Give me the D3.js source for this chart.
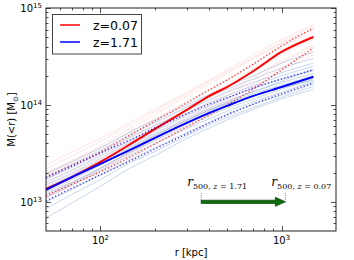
<!DOCTYPE html>
<html><head><meta charset="utf-8">
<script src="https://cdn.jsdelivr.net/npm/d3@7"></script>
<style>body{margin:0;background:#fff}svg{display:block}</style>
</head><body>
<script>
// ---- data (mass in units of 1e13 Msun) ----
const UNIT = 1e13;
const radii = [50, 70, 100, 150, 200, 300, 400, 500, 700, 1000, 1500];
const redMedian = [1.36, 1.81, 2.58, 4.06, 5.66, 8.88, 12.4, 15.3, 22.4, 35.2, 50.2];
const redUpper  = [1.81, 2.41, 3.28, 5.02, 6.84, 10.5, 14.3, 18.1, 26.5, 40.6, 62.2];
const redLower  = [1.15, 1.53, 2.04, 2.98, 3.96, 5.93, 7.88, 10.0, 14.6, 23.0, 38.7];
const blueMedian = [1.33, 1.81, 2.46, 3.52, 4.57, 6.52, 8.27, 9.77, 12.4, 15.3, 19.5];
const blueUpper  = [1.77, 2.35, 3.20, 4.46, 5.79, 8.08, 10.2, 11.8, 15.0, 18.5, 23.0];
const blueLower  = [1.02, 1.39, 1.90, 2.71, 3.52, 5.02, 6.52, 7.88, 10.2, 13.0, 16.9];
const redClusters = [
  [2.4, 3.3, 4.5, 6.8, 9.0, 13.5, 18.0, 23.0, 33.0, 47.0, 68.0],
  [2.2, 3.0, 4.2, 6.4, 8.6, 13.0, 17.5, 22.0, 31.0, 44.0, 66.0],
  [2.0, 2.7, 3.8, 5.9, 8.0, 12.3, 16.5, 21.0, 30.0, 43.0, 60.0],
  [1.9, 2.6, 3.6, 5.4, 7.2, 10.8, 14.5, 18.0, 26.0, 40.0, 56.0],
  [1.7, 2.3, 3.1, 4.7, 6.3, 9.5, 12.8, 16.0, 23.5, 36.0, 52.0],
  [1.55, 2.1, 2.9, 4.3, 5.9, 9.0, 12.0, 15.0, 22.0, 33.0, 47.0],
  [1.45, 1.95, 2.7, 4.0, 5.4, 8.1, 10.8, 13.4, 19.5, 28.5, 42.0],
  [1.3, 1.75, 2.4, 3.6, 4.8, 7.3, 9.8, 12.3, 18.0, 27.0, 40.0],
  [1.2, 1.6, 2.2, 3.3, 4.5, 6.9, 9.3, 11.6, 16.5, 24.0, 36.0],
  [1.1, 1.5, 2.1, 3.2, 4.3, 6.5, 8.6, 10.8, 15.5, 22.5, 33.0]
];
const blueClusters = [
  [0.68, 0.98, 1.45, 2.3, 3.0, 4.5, 5.8, 7.0, 9.0, 11.5, 14.5],
  [0.85, 1.2, 1.7, 2.6, 3.3, 4.8, 6.2, 7.4, 9.4, 12.0, 15.5],
  [1.0, 1.35, 1.9, 2.8, 3.6, 5.2, 6.6, 8.0, 10.2, 12.6, 16.5],
  [1.1, 1.5, 2.1, 3.1, 4.0, 5.7, 7.2, 8.6, 10.8, 13.5, 17.5],
  [1.15, 1.55, 2.2, 3.4, 4.5, 6.6, 8.5, 10.2, 12.5, 15.0, 18.0],
  [1.2, 1.6, 2.25, 3.3, 4.3, 6.1, 7.8, 9.2, 11.5, 14.5, 18.5],
  [1.25, 1.7, 2.4, 3.6, 4.6, 6.5, 8.2, 9.8, 12.3, 15.2, 19.0],
  [1.3, 1.8, 2.5, 3.7, 4.8, 6.9, 8.8, 10.4, 13.0, 16.0, 20.0],
  [1.35, 1.85, 2.6, 3.8, 4.9, 7.0, 8.9, 10.6, 13.8, 17.5, 23.5],
  [1.4, 1.9, 2.65, 4.0, 5.1, 7.3, 9.2, 11.0, 13.6, 17.0, 21.0],
  [1.5, 2.0, 2.8, 4.2, 5.4, 7.8, 9.8, 11.8, 14.8, 18.5, 22.5],
  [1.6, 2.15, 3.0, 4.4, 5.7, 8.2, 10.5, 12.5, 15.8, 20.0, 25.0],
  [1.7, 2.3, 3.2, 4.8, 6.1, 8.8, 11.3, 13.6, 17.0, 21.5, 27.0],
  [1.8, 2.45, 3.4, 5.1, 6.6, 9.5, 12.0, 14.5, 18.5, 24.0, 30.0],
  [1.95, 2.6, 3.6, 5.4, 7.0, 10.0, 12.8, 15.5, 20.0, 27.0, 35.0]
];
const seriesLabels = ["z=0.07", "z=1.71"];
const r500 = {"1.71": 360, "0.07": 1050};
const arrowMass = 1.0; // in UNIT
const xTickExps = [2, 3];
const yTickExps = [13, 14, 15];

// ---- layout ----
const W = 354, H = 260;
const m = {l: 46, r: 18, t: 8, b: 29};
const svg = d3.select("body").append("svg").attr("width", W).attr("height", H);
const x = d3.scaleLog().domain([50, 2000]).range([m.l, W - m.r]);
const y = d3.scaleLog().domain([5e12, 1e15]).range([H - m.b, m.t]);
const x0 = m.l, x1 = W - m.r, y0 = H - m.b, y1 = m.t;

svg.append("clipPath").attr("id", "clip").append("rect")
  .attr("x", x0).attr("y", y1).attr("width", x1 - x0).attr("height", y0 - y1);
const g = svg.append("g").attr("clip-path", "url(#clip)");
const line = d3.line().curve(d3.curveMonotoneX)
  .x((d, i) => x(radii[i])).y(d => y(d * UNIT));

function draw(data, color, width, opacity, dash) {
  const p = g.append("path").datum(data).attr("d", line)
    .attr("fill", "none").attr("stroke", color).attr("stroke-width", width)
    .attr("stroke-opacity", opacity).attr("stroke-linejoin", "round");
  if (dash) p.attr("stroke-dasharray", dash);
}
redClusters.forEach(d => draw(d, "#ff6060", 1, 0.17));
blueClusters.forEach(d => draw(d, "#4a78c0", 1, 0.3));
draw(redUpper, "#ff0000", 1.5, 0.75, "1.2,2.2");
draw(redLower, "#ff0000", 1.5, 0.75, "1.2,2.2");
draw(redMedian, "#ff0000", 2, 1);
draw(blueUpper, "#0000ff", 1.5, 0.75, "1.2,2.2");
draw(blueLower, "#0000ff", 1.5, 0.75, "1.2,2.2");
draw(blueMedian, "#0000ff", 2, 1);

// ---- frame & ticks ----
const axisColor = "#222";
svg.append("rect").attr("x", x0).attr("y", y1).attr("width", x1 - x0).attr("height", y0 - y1)
  .attr("fill", "none").attr("stroke", axisColor).attr("stroke-width", 1);

const xMajor = xTickExps.map(e => Math.pow(10, e));
const xMinor = x.ticks().filter(v => !xMajor.some(M => Math.abs(M - v) < 1e-6) && v > 50 && v < 2000);
const yMajor = yTickExps.map(e => Math.pow(10, e));
const yMinor = y.ticks().filter(v => !yMajor.some(M => Math.abs(M / v - 1) < 1e-6) && v > 5e12 && v < 1e15);

const tk = svg.append("g").attr("stroke", axisColor).attr("stroke-width", 0.8);
function xt(v, len) {
  const px = Math.round(x(v)) + 0.5;
  tk.append("line").attr("x1", px).attr("x2", px).attr("y1", y0).attr("y2", y0 - len);
  tk.append("line").attr("x1", px).attr("x2", px).attr("y1", y1).attr("y2", y1 + len);
}
function yt(v, len) {
  const py = Math.round(y(v)) + 0.5;
  tk.append("line").attr("x1", x0).attr("x2", x0 + len).attr("y1", py).attr("y2", py);
  tk.append("line").attr("x1", x1).attr("x2", x1 - len).attr("y1", py).attr("y2", py);
}
xMajor.forEach(v => xt(v, 5)); xMinor.forEach(v => xt(v, 2.5));
yMajor.forEach(v => yt(v, 5)); yMinor.forEach(v => yt(v, 2.5));

const font = "'DejaVu Sans', sans-serif";
xTickExps.forEach(e => {
  const t = svg.append("text").attr("x", x(Math.pow(10, e))).attr("y", y0 + 13)
    .attr("text-anchor", "middle").attr("font-family", font).attr("font-size", 10).attr("fill", "#000");
  t.append("tspan").text("10");
  t.append("tspan").attr("dy", -4).attr("font-size", 7).text(String(e));
});
yTickExps.forEach(e => {
  const t = svg.append("text").attr("x", x0 - 4).attr("y", y(Math.pow(10, e)) + 4)
    .attr("text-anchor", "end").attr("font-family", font).attr("font-size", 10).attr("fill", "#000");
  t.append("tspan").text("10");
  t.append("tspan").attr("dy", -4).attr("font-size", 7).text(String(e));
});

// axis labels
svg.append("text").attr("x", (x0 + x1) / 2).attr("y", H - 4).attr("text-anchor", "middle")
  .attr("font-family", font).attr("font-size", 10).text("r [kpc]");
const yl = svg.append("text").attr("transform", `translate(15,${(y0 + y1) / 2}) rotate(-90)`)
  .attr("text-anchor", "middle").attr("font-family", font).attr("font-size", 10);
yl.append("tspan").text("M(<r) [M");
yl.append("tspan").attr("dy", 2.5).attr("font-size", 7).text("⊙");
yl.append("tspan").attr("dy", -2.5).text("]");

// legend
const lg = svg.append("g");
lg.append("rect").attr("x", 52.5).attr("y", 14.5).attr("width", 89).attr("height", 39.5)
  .attr("fill", "#fff").attr("stroke", "#444").attr("stroke-width", 1);
[["#ff0000", 25], ["#0000ff", 42]].forEach(([c, yy], i) => {
  lg.append("line").attr("x1", 60).attr("x2", 80).attr("y1", yy).attr("y2", yy)
    .attr("stroke", c).attr("stroke-width", 1.5);
  lg.append("text").attr("x", 93).attr("y", yy + 4.5).attr("font-family", font)
    .attr("font-size", 12.5).attr("fill", "#000").text(seriesLabels[i]);
});

// r500 arrow
const ay = y(arrowMass * UNIT);
const ax0 = x(r500["1.71"]), ax1 = x(r500["0.07"]);
const ag = svg.append("g");
[ax0, ax1].forEach(px => ag.append("line").attr("x1", px).attr("x2", px)
  .attr("y1", ay - 9).attr("y2", ay + 1).attr("stroke", "#333").attr("stroke-width", 0.6)
  .attr("stroke-dasharray", "1,1"));
const headLen = 10, bodyH = 1.6, headH = 4.5;
ag.append("path").attr("d", `M${ax0},${ay - bodyH} L${ax1 - headLen},${ay - bodyH} L${ax1 - headLen},${ay - headH} L${ax1},${ay} L${ax1 - headLen},${ay + headH} L${ax1 - headLen},${ay + bodyH} L${ax0},${ay + bodyH} Z`)
  .attr("fill", "#0b6e0b").attr("stroke", "#083808").attr("stroke-width", 0.7);

const serif = "'DejaVu Serif', 'Liberation Serif', serif";
function r500Label(px, z) {
  const t = svg.append("text").attr("x", px - 14).attr("y", ay - 16)
    .attr("font-family", serif).attr("font-size", 12).attr("fill", "#000");
  t.append("tspan").attr("font-style", "italic").text("r");
  t.append("tspan").attr("dy", 3).attr("font-size", 8).text("500, ");
  t.append("tspan").attr("font-size", 8).attr("font-style", "italic").text("z");
  t.append("tspan").attr("font-size", 8).text(" = " + z);
}
r500Label(ax0, "1.71");
r500Label(ax1, "0.07");
</script>
</body></html>
